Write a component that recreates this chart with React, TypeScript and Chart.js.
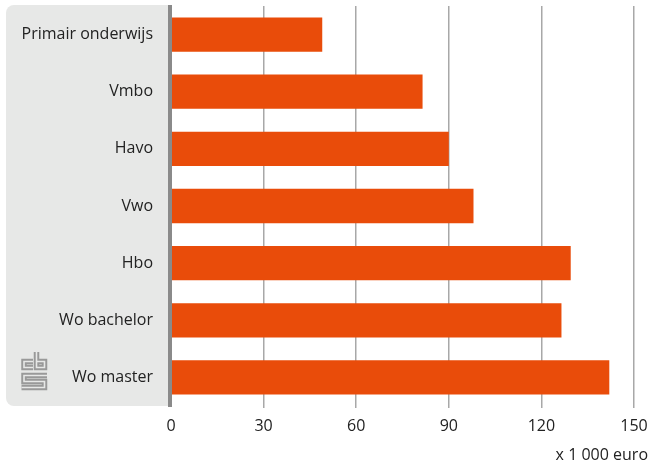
import React, { useEffect, useRef } from "react";
import { Chart, registerables } from "chart.js";

Chart.register(...registerables);

const categories = ["Primair onderwijs", "Vmbo", "Havo", "Vwo", "Hbo", "Wo bachelor", "Wo master"];
const values = [49, 81.5, 90, 98, 129.5, 126.5, 142];
const xTicks = [0, 30, 60, 90, 120, 150];
const unitLabel = "x 1 000 euro";

const FONT = "'Open Sans', 'Noto Sans', sans-serif";
const PANEL = "#e7e8e7";
const ORANGE = "#e94c0a";

const decorPlugin = {
  id: "decor",
  beforeDraw(chart: any) {
    const { ctx, chartArea } = chart;
    ctx.save();
    ctx.fillStyle = PANEL;
    ctx.beginPath();
    const x0 = 6, y0 = 5, x1 = chartArea.left - 1, y1 = chartArea.bottom;
    (ctx as any).roundRect(x0, y0, x1 - x0, y1 - y0, [8, 0, 0, 8]);
    ctx.fill();
    ctx.restore();
  },
  afterDatasetsDraw(chart: any) {
    const { ctx, chartArea } = chart;
    ctx.save();
    ctx.fillStyle = "#8a8a8a";
    ctx.fillRect(chartArea.left - 3, 5, 4, chartArea.bottom - 5 + 1);
    ctx.restore();
  },
  afterDraw(chart: any) {
    const { ctx, width } = chart;
    ctx.save();
    ctx.font = `16px ${FONT}`;
    ctx.fillStyle = "#222";
    ctx.textAlign = "right";
    ctx.textBaseline = "middle";
    ctx.fillText(unitLabel, width - 3, 455);
    const paths: number[][][] = [
      [[33, 361.5], [24, 361.5], [24, 367.5], [33, 367.5]],
      [[36.5, 352], [36.5, 367.5], [44.5, 367.5], [44.5, 361.5], [36.5, 361.5]],
      [[47, 375.5], [24, 375.5], [24, 381.5], [44.5, 381.5], [44.5, 387.5], [21.5, 387.5]],
    ];
    const drawPaths = (lw: number, color: string) => {
      ctx.lineWidth = lw;
      ctx.strokeStyle = color;
      ctx.lineJoin = "miter";
      ctx.lineCap = "butt";
      for (const p of paths) {
        ctx.beginPath();
        ctx.moveTo(p[0][0], p[0][1]);
        for (let i = 1; i < p.length; i++) ctx.lineTo(p[i][0], p[i][1]);
        ctx.stroke();
      }
    };
    drawPaths(5.5, "#999999");
    drawPaths(1.6, PANEL);
    ctx.restore();
  },
};

export default function App() {
  const ref = useRef<HTMLCanvasElement>(null);
  useEffect(() => {
    if (!ref.current) return;
    const chart = new Chart(ref.current, {
      type: "bar",
      data: {
        labels: categories,
        datasets: [
          {
            data: values,
            backgroundColor: ORANGE,
            borderWidth: 0,
            barPercentage: 0.6,
            categoryPercentage: 1,
          },
        ],
      },
      options: {
        indexAxis: "y",
        animation: false,
        responsive: false,
        devicePixelRatio: 1,
        layout: { padding: { top: 6, right: 17, bottom: 0, left: 0 } },
        plugins: { legend: { display: false }, tooltip: { enabled: false } },
        scales: {
          x: {
            type: "linear",
            min: 0,
            max: 150,
            afterBuildTicks: (scale: any) => {
              scale.ticks = xTicks.map((v) => ({ value: v }));
            },
            afterFit: (scale: any) => {
              scale.height = 59;
              scale.paddingLeft = 0;
              scale.paddingRight = 0;
            },
            ticks: {
              font: { size: 16, family: FONT },
              color: "#222",
              padding: 9,
            },
            grid: {
              color: (c: any) => (c.tick && c.tick.value === 0 ? "rgba(0,0,0,0)" : "#a8a8a8"),
              lineWidth: 1.5,
              drawTicks: true,
              tickLength: 2,
            },
            border: { display: false },
          },
          y: {
            type: "category",
            afterFit: (scale: any) => {
              scale.width = 171;
              scale.paddingTop = 0;
              scale.paddingBottom = 0;
            },
            ticks: {
              font: { size: 16, family: FONT },
              color: "#222",
              padding: 18,
            },
            grid: { display: false, drawTicks: false },
            border: { display: false },
          },
        },
      },
      plugins: [decorPlugin],
    } as any);
    return () => chart.destroy();
  }, []);
  return (
    <div style={{ position: "absolute", left: 0, top: 0, width: 651, height: 465 }}>
      <canvas ref={ref} width={651} height={465} style={{ width: 651, height: 465, display: "block" }} />
    </div>
  );
}
